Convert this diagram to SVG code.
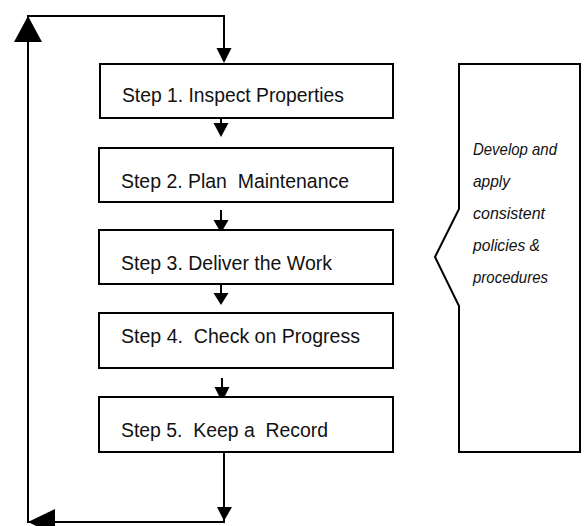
<svg xmlns="http://www.w3.org/2000/svg" width="587" height="526" viewBox="0 0 587 526">
  <style>
    .box { fill: #ffffff; stroke: #000000; stroke-width: 2; }
    .line { fill: none; stroke: #000000; stroke-width: 2; }
    .head { fill: #000000; stroke: none; }
    .step { font-family: "Liberation Sans", Arial, sans-serif; font-size: 20.5px; fill: #111111; white-space: pre; }
    .note { font-family: "Liberation Sans", Arial, sans-serif; font-size: 17px; font-style: italic; fill: #111111; white-space: pre; }
  </style>
  <rect width="587" height="526" fill="#ffffff"/>

  <!-- Connectors: feedback loop and step-to-step arrows -->
  <g id="connectors">
    <!-- feedback loop -->
    <polyline class="line" points="224,452 224,522 28,522 28,16 224,16 224,50"/>
    <polygon class="head" points="224,63 216.5,48 231.5,48"/>
    <polygon class="head" points="224,521 217,507 232,507"/>
    <polygon class="head" points="28,16 14,42 42,42"/>
    <polygon class="head" points="28,522 55,509 55,535"/>
    <!-- step 1 to step 2 -->
    <line class="line" x1="221" y1="116" x2="221" y2="125"/>
    <polygon class="head" points="221,137 213.5,123 228.5,123"/>
    <!-- step 2 to step 3 -->
    <line class="line" x1="221" y1="210" x2="221" y2="222"/>
    <polygon class="head" points="221,233 213.5,220 228.5,220"/>
    <!-- step 3 to step 4 -->
    <line class="line" x1="221" y1="283" x2="221" y2="295"/>
    <polygon class="head" points="221,305 213.5,293 228.5,293"/>
    <!-- step 4 to step 5 -->
    <line class="line" x1="222" y1="378" x2="222" y2="389"/>
    <polygon class="head" points="222,402 214.5,387 229.5,387"/>
  </g>

  <g id="step1">
    <rect class="box" x="100" y="64" width="293" height="54"/>
    <text class="step" x="122" y="102" textLength="222" lengthAdjust="spacingAndGlyphs">Step 1. Inspect Properties</text>
  </g>
  <g id="step2">
    <rect class="box" x="99" y="148" width="294" height="54"/>
    <text class="step" x="121" y="188" textLength="228" lengthAdjust="spacingAndGlyphs">Step 2. Plan  Maintenance</text>
  </g>
  <g id="step3">
    <rect class="box" x="99" y="230" width="294" height="54"/>
    <text class="step" x="121" y="270" textLength="211" lengthAdjust="spacingAndGlyphs">Step 3. Deliver the Work</text>
  </g>
  <g id="step4">
    <rect class="box" x="99" y="313" width="294" height="55"/>
    <text class="step" x="121" y="343" textLength="239" lengthAdjust="spacingAndGlyphs">Step 4.  Check on Progress</text>
  </g>
  <g id="step5">
    <rect class="box" x="99" y="397" width="294" height="55"/>
    <text class="step" x="121" y="437" textLength="207" lengthAdjust="spacingAndGlyphs">Step 5.  Keep a  Record</text>
  </g>

  <g id="policies">
    <path class="box" d="M459,64 H580 V452 H459 V306 L435,257 L459,209 Z"/>
    <text class="note" x="473" y="155" textLength="84" lengthAdjust="spacingAndGlyphs">Develop and</text>
    <text class="note" x="473" y="187" textLength="37" lengthAdjust="spacingAndGlyphs">apply</text>
    <text class="note" x="473" y="219" textLength="72" lengthAdjust="spacingAndGlyphs">consistent</text>
    <text class="note" x="473" y="251" textLength="67" lengthAdjust="spacingAndGlyphs">policies &amp;</text>
    <text class="note" x="473" y="283" textLength="75" lengthAdjust="spacingAndGlyphs">procedures</text>
  </g>
</svg>
